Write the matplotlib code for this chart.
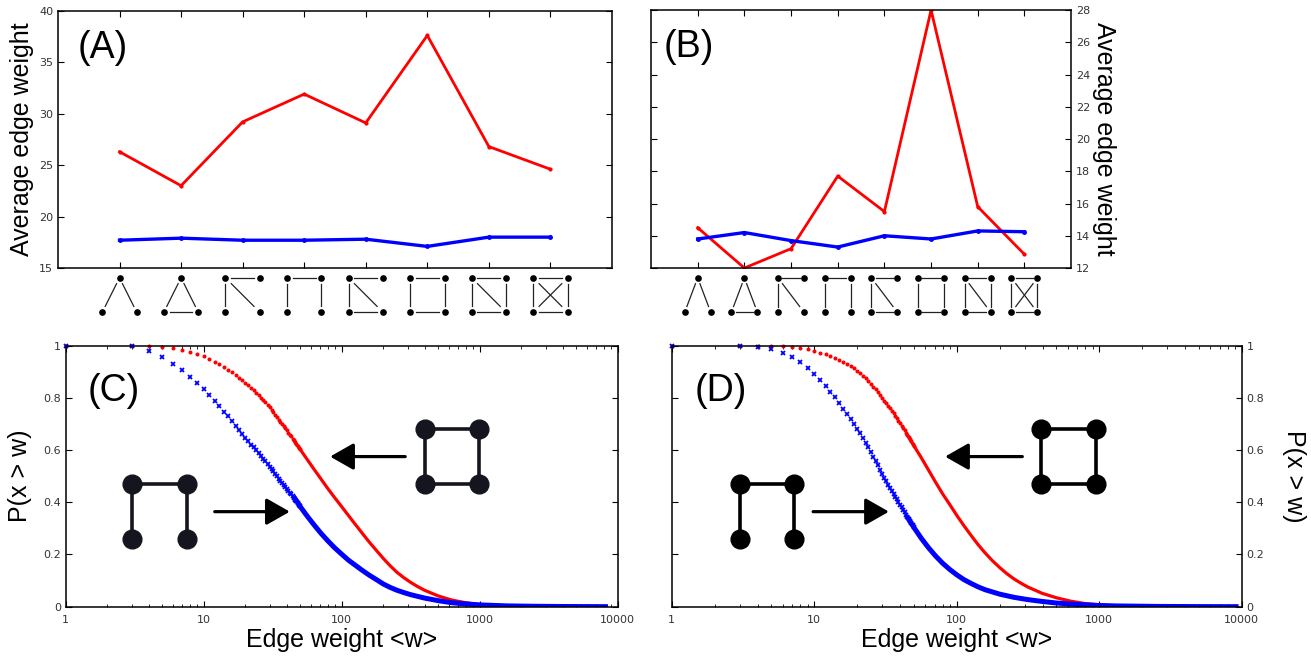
import numpy as np
import matplotlib.pyplot as plt
from matplotlib.transforms import blended_transform_factory

plt.rcParams['font.family'] = ['Liberation Sans', 'DejaVu Sans']

# average edge weight per motif (top panels)
motif_pos = np.arange(8)
a_red = [26.3, 23.0, 29.2, 31.9, 29.1, 37.6, 26.8, 24.6]
a_blue = [17.7, 17.9, 17.7, 17.7, 17.8, 17.1, 18.0, 18.0]
b_red = [14.5, 12.0, 13.2, 17.7, 15.5, 28.0, 15.8, 12.85]
b_blue = [13.8, 14.2, 13.7, 13.3, 14.0, 13.8, 14.3, 14.25]

# cumulative distributions, one point per integer weight at the low end
w_head = [1] + list(range(3, 51))
c_red_head = [1.0, 1.0, 1.0, 0.996, 0.990, 0.983, 0.976, 0.968, 0.959, 0.949,
              0.939, 0.929, 0.920, 0.908, 0.898, 0.888, 0.877, 0.867, 0.857,
              0.848, 0.839, 0.830, 0.820, 0.811, 0.801, 0.792, 0.783, 0.774, 0.765,
              0.755, 0.745, 0.735, 0.726, 0.717, 0.708, 0.699, 0.691, 0.683, 0.675,
              0.667, 0.659, 0.652, 0.644, 0.637, 0.630, 0.623, 0.616, 0.609, 0.603]
c_blue_head = [1.0, 1.0, 0.980, 0.955, 0.931, 0.906, 0.881, 0.857, 0.833, 0.810,
               0.788, 0.768, 0.747, 0.729, 0.711, 0.694, 0.677, 0.660, 0.645,
               0.633, 0.621, 0.610, 0.599, 0.588, 0.578, 0.567, 0.557, 0.546, 0.536,
               0.527, 0.518, 0.509, 0.500, 0.491, 0.483, 0.475, 0.467, 0.459, 0.452,
               0.444, 0.437, 0.430, 0.423, 0.416, 0.410, 0.403, 0.397, 0.391, 0.385]
d_red_head = [1.0, 1.0, 1.0, 1.0, 1.0, 0.994, 0.990, 0.986, 0.980, 0.973,
              0.967, 0.961, 0.953, 0.945, 0.938, 0.930, 0.922, 0.913, 0.904,
              0.895, 0.885, 0.875, 0.864, 0.854, 0.843, 0.832, 0.821, 0.810, 0.799,
              0.789, 0.780, 0.770, 0.760, 0.750, 0.741, 0.731, 0.721, 0.711, 0.702,
              0.693, 0.684, 0.675, 0.666, 0.658, 0.650, 0.641, 0.633, 0.625, 0.617]
d_blue_head = [1.0, 1.0, 0.994, 0.987, 0.971, 0.955, 0.936, 0.916, 0.893, 0.870,
               0.847, 0.824, 0.802, 0.780, 0.759, 0.738, 0.719, 0.701, 0.682,
               0.664, 0.646, 0.628, 0.610, 0.592, 0.575, 0.558, 0.541, 0.524, 0.508,
               0.494, 0.481, 0.468, 0.456, 0.444, 0.433, 0.422, 0.411, 0.400, 0.390,
               0.380, 0.370, 0.361, 0.352, 0.343, 0.335, 0.327, 0.319, 0.311, 0.304]

# dense tails, where the points merge into a band
c_red_tail_w = [44.7, 50.1, 56.2, 63.1, 70.8, 79.4, 89.1, 100, 112, 126, 141, 158, 178,
                200, 224, 251, 282, 316, 355, 398, 501, 631, 794, 1000, 1259, 1995,
                3981, 7943]
c_red_tail_p = [0.639, 0.602, 0.564, 0.526, 0.489, 0.452, 0.417, 0.383, 0.349, 0.314,
                0.281, 0.248, 0.216, 0.185, 0.157, 0.132, 0.111, 0.093, 0.077, 0.063,
                0.041, 0.025, 0.015, 0.008, 0.004, 0.0015, 0.0005, 0.0]
c_blue_tail_w = [44.7, 50.1, 56.2, 63.1, 70.8, 79.4, 89.1, 100, 112, 126, 141, 158, 178,
                 200, 224, 251, 282, 316, 398, 501, 631, 794, 1000, 1585, 2512, 3981,
                 8500]
c_blue_tail_p = [0.423, 0.383, 0.347, 0.313, 0.281, 0.252, 0.225, 0.201, 0.178, 0.158,
                 0.139, 0.121, 0.104, 0.087, 0.074, 0.063, 0.054, 0.046, 0.033, 0.023,
                 0.015, 0.0105, 0.0068, 0.003, 0.0015, 0.0007, 0.0]
d_red_tail_w = [44.7, 50.1, 56.2, 63.1, 70.8, 79.4, 89.1, 100, 112, 126, 141, 158, 178,
                200, 224, 251, 282, 316, 398, 501, 631, 794, 1000, 1413, 2512, 8900]
d_red_tail_p = [0.660, 0.616, 0.572, 0.525, 0.478, 0.433, 0.392, 0.350, 0.311, 0.273,
                0.238, 0.206, 0.176, 0.150, 0.127, 0.107, 0.090, 0.075, 0.051, 0.034,
                0.021, 0.012, 0.007, 0.003, 0.001, 0.0]
d_blue_tail_w = [44.7, 50.1, 56.2, 63.1, 70.8, 79.4, 89.1, 100, 112, 126, 141, 158, 200,
                 251, 316, 398, 501, 631, 794, 1000, 1259, 2512, 5012, 9500]
d_blue_tail_p = [0.346, 0.303, 0.263, 0.227, 0.195, 0.167, 0.143, 0.122, 0.104, 0.089,
                 0.076, 0.065, 0.048, 0.036, 0.027, 0.020, 0.014, 0.010, 0.007, 0.0045,
                 0.003, 0.001, 0.0003, 0.0]

# small motif icons drawn under the top x axes
node_xy = {'t': (0, 0), 'l': (-1, 1), 'r': (1, 1),
           'tl': (-1, 0), 'tr': (1, 0), 'bl': (-1, 1), 'br': (1, 1)}
tri = ['t', 'l', 'r']
quad = ['tl', 'tr', 'bl', 'br']
square = [('tl', 'tr'), ('tl', 'bl'), ('tr', 'br'), ('bl', 'br')]
motifs = [
    (tri, [('t', 'l'), ('t', 'r')]),
    (tri, [('t', 'l'), ('t', 'r'), ('l', 'r')]),
    (quad, [('tl', 'tr'), ('tl', 'bl'), ('tl', 'br')]),
    (quad, [('tl', 'tr'), ('tl', 'bl'), ('tr', 'br')]),
    (quad, [('tl', 'tr'), ('tl', 'bl'), ('tl', 'br'), ('bl', 'br')]),
    (quad, square),
    (quad, square + [('tl', 'br')]),
    (quad, square + [('tl', 'br'), ('tr', 'bl')]),
]


def draw_motifs(ax):
    trans = blended_transform_factory(ax.transData, ax.transAxes)
    levels = (-0.038, -0.172)
    for x0, (nodes, edges) in zip(motif_pos, motifs):
        def xy(n):
            dx, lvl = node_xy[n]
            return x0 + 0.28 * dx, levels[lvl]
        for a, b in edges:
            (x1, y1), (x2, y2) = xy(a), xy(b)
            s = 0.17
            ax.plot([x1 + s * (x2 - x1), x2 - s * (x2 - x1)],
                    [y1 + s * (y2 - y1), y2 - s * (y2 - y1)],
                    color='#222222', lw=0.9, transform=trans, clip_on=False)
        for n in nodes:
            x, y = xy(n)
            ax.plot(x, y, 'o', ms=3.8, color='k', mec='k', transform=trans, clip_on=False)


def draw_icon(ax, xs, ys, edges, color):
    pts = {'tl': (xs[0], ys[0]), 'tr': (xs[1], ys[0]), 'bl': (xs[0], ys[1]), 'br': (xs[1], ys[1])}
    for a, b in edges:
        ax.plot([pts[a][0], pts[b][0]], [pts[a][1], pts[b][1]], color=color, lw=2.6,
                transform=ax.transAxes, zorder=5)
    for x, y in pts.values():
        ax.plot(x, y, 'o', ms=13.5, color=color, mec=color, transform=ax.transAxes, zorder=4)


def arrow(ax, x0, x1, y):
    ax.annotate('', xy=(x1, y), xytext=(x0, y), xycoords='axes fraction',
                arrowprops=dict(arrowstyle='-|>,head_length=0.72,head_width=0.41',
                                lw=2.3, color='k', mutation_scale=20, shrinkA=0, shrinkB=0))


def style(ax):
    ax.tick_params(which='major', direction='in', top=True, right=True, length=4,
                   width=0.8, labelsize=8, labelcolor='#333333')
    ax.tick_params(which='minor', direction='in', top=True, right=True, length=2, width=0.6)
    for s in ax.spines.values():
        s.set_linewidth(1.1)


fig = plt.figure(figsize=(13.11, 6.59), dpi=100)
axA = fig.add_axes([0.0442, 0.5933, 0.4226, 0.3904])
axB = fig.add_axes([0.4966, 0.5933, 0.3204, 0.3915])
axC = fig.add_axes([0.0501, 0.0794, 0.4211, 0.3961])
axD = fig.add_axes([0.5124, 0.0794, 0.4348, 0.3961])

# top panels
for ax, red, blue in ((axA, a_red, a_blue), (axB, b_red, b_blue)):
    ax.plot(motif_pos, red, '.-', color='#ff0000', lw=2.0, ms=4)
    ax.plot(motif_pos, blue, '.-', color='#0000ff', lw=2.4, ms=5)
    ax.set_xlim(-1, 8)
    ax.set_xticks(motif_pos)
    ax.set_xticklabels([])
    style(ax)
    draw_motifs(ax)

axA.set_ylim(15, 40)
axA.set_yticks(np.arange(15, 41, 5))
axA.set_ylabel('Average edge weight', fontsize=18)
axA.yaxis.set_label_coords(-0.044, 0.5)
axA.text(0.036, 0.855, '(A)', transform=axA.transAxes, fontsize=27, va='center')

axB.set_ylim(12, 28)
axB.set_yticks(np.arange(12, 29, 2))
axB.yaxis.tick_right()
axB.tick_params(left=True, labelleft=False)
axB.yaxis.set_label_position('right')
axB.set_ylabel('Average edge weight', fontsize=18, rotation=270, va='bottom')
axB.yaxis.set_label_coords(1.05, 0.5)
axB.text(0.029, 0.855, '(B)', transform=axB.transAxes, fontsize=27, va='center')

# bottom panels
panels = [
    (axC, c_red_head, c_blue_head, c_red_tail_w, c_red_tail_p, c_blue_tail_w, c_blue_tail_p, '(C)'),
    (axD, d_red_head, d_blue_head, d_red_tail_w, d_red_tail_p, d_blue_tail_w, d_blue_tail_p, '(D)'),
]
for ax, rh, bh, rtw, rtp, btw, btp, tag in panels:
    ax.plot(rtw, rtp, '-', color='#ff0000', lw=2.3, solid_capstyle='butt')
    ax.plot(w_head, rh, '.', color='#ff0000', ms=3.8, clip_on=False)
    ax.plot(btw, btp, '-', color='#0000ff', lw=3.6, solid_capstyle='butt')
    ax.plot(w_head, bh, 'x', color='#0000ff', ms=3.3, mew=1.3, clip_on=False)
    ax.set_xscale('log')
    ax.set_xlim(1, 10000)
    ax.set_ylim(0, 1)
    ax.set_xticks([1, 10, 100, 1000, 10000])
    ax.set_xticklabels(['1', '10', '100', '1000', '10000'])
    ax.set_yticks([0, 0.2, 0.4, 0.6, 0.8, 1])
    ax.set_yticklabels(['0', '0.2', '0.4', '0.6', '0.8', '1'])
    style(ax)
    ax.tick_params(axis='x', which='major', pad=6)
    ax.set_xlabel('Edge weight <w>', fontsize=18)
    ax.xaxis.set_label_coords(0.5, -0.083)
    ax.text(0.04, 0.828, tag, transform=ax.transAxes, fontsize=27, va='center')

axC.set_ylabel('P(x > w)', fontsize=18)
axC.yaxis.set_label_coords(-0.061, 0.5)
axD.yaxis.tick_right()
axD.tick_params(left=True, labelleft=False)
axD.yaxis.set_label_position('right')
axD.set_ylabel('P(x > w)', fontsize=18, rotation=270, va='bottom')
axD.yaxis.set_label_coords(1.07, 0.5)

# open square and full square icons with arrows pointing to their curves
open_sq = [('tl', 'tr'), ('tl', 'bl'), ('tr', 'br')]
draw_icon(axC, (0.121, 0.220), (0.470, 0.259), open_sq, '#15151f')
draw_icon(axC, (0.650, 0.749), (0.680, 0.469), square, '#15151f')
arrow(axC, 0.270, 0.406, 0.364)
arrow(axC, 0.615, 0.479, 0.575)
draw_icon(axD, (0.119, 0.215), (0.470, 0.259), open_sq, 'k')
draw_icon(axD, (0.647, 0.744), (0.680, 0.469), square, 'k')
arrow(axD, 0.248, 0.381, 0.364)
arrow(axD, 0.615, 0.4795, 0.575)

for ax in (axA, axB, axC, axD):
    for lbl in ax.get_xticklabels() + ax.get_yticklabels():
        lbl.set_fontfamily('DejaVu Sans')

fig.savefig('out.png', dpi=100)
